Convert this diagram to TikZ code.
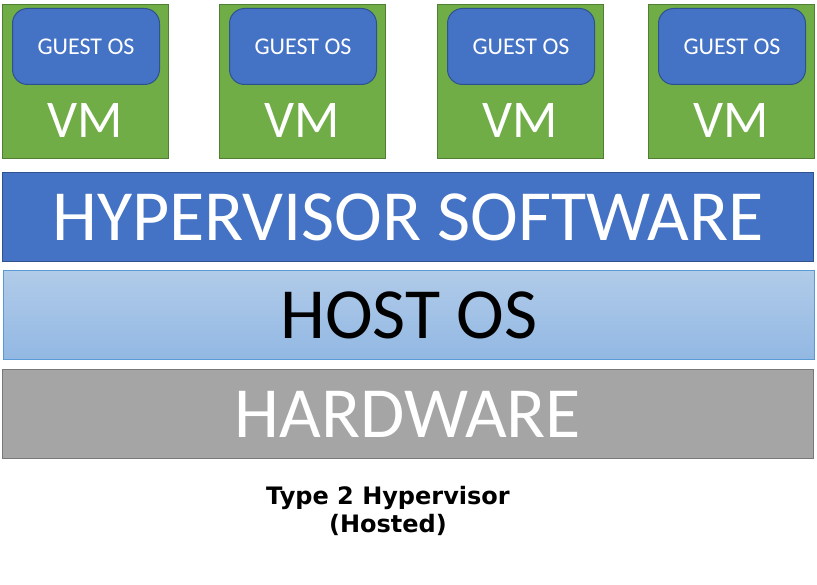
\documentclass[tikz,border=0pt]{standalone}
\usepackage{fontspec}
\setmainfont{Carlito}
\newfontfamily\captionfont{DejaVu Sans}

\definecolor{vmgreen}{HTML}{70AD47}
\definecolor{vmgreenline}{HTML}{507E32}
\definecolor{osblue}{HTML}{4472C4}
\definecolor{osblueline}{HTML}{2F528F}
\definecolor{hosttop}{HTML}{B1CBE9}
\definecolor{hostbottom}{HTML}{92B8E3}
\definecolor{hostline}{HTML}{5B9BD5}
\definecolor{hwgray}{HTML}{A5A5A5}
\definecolor{hwline}{HTML}{787878}

\tikzset{
    vmbox/.style={draw=vmgreenline, fill=vmgreen, line width=1pt, inner sep=0pt,
        minimum width=166pt, minimum height=154pt, anchor=north west},
    guestbox/.style={draw=osblueline, fill=osblue, line width=1pt, inner sep=0pt,
        rounded corners=15pt, minimum width=147pt, minimum height=76pt,
        anchor=north west, text=white, font=\fontsize{24}{28}\selectfont},
    vmlabel/.style={text=white, inner sep=0pt, anchor=base, font=\fontsize{53}{60}\selectfont},
    layer/.style={line width=1pt, inner sep=0pt, minimum width=811pt,
        minimum height=89pt, anchor=north west, font=\fontsize{72}{80}\selectfont}
}

\begin{document}
\begin{tikzpicture}[x=1pt, y=-1pt]
    \useasboundingbox (0,0) rectangle (817,585);

    % Virtual machines
    \foreach \x/\n in {2/1, 219/2, 437/3, 648/4} {
        \node[vmbox] (vm\n) at (\x,4) {};
        \node[guestbox] (guest\n) at (\x+10,8) {GUEST OS};
        \node[vmlabel] (vmtext\n) at (\x+83,138) {VM};
    }

    % Layers
    \node[layer, draw=osblueline, fill=osblue, text=white] (hyper) at (2,172) {HYPERVISOR SOFTWARE};
    \node[layer, draw=hostline, top color=hosttop, bottom color=hostbottom, text=black] (host) at (3,270) {HOST OS};
    \node[layer, draw=hwline, fill=hwgray, text=white] (hw) at (2,369) {HARDWARE};

    % Caption
    \node[anchor=base, align=center, inner sep=0pt,
        font=\captionfont\bfseries\fontsize{24}{28}\selectfont] (caption) at (388,532)
        {Type 2 Hypervisor\\(Hosted)};
\end{tikzpicture}
\end{document}
